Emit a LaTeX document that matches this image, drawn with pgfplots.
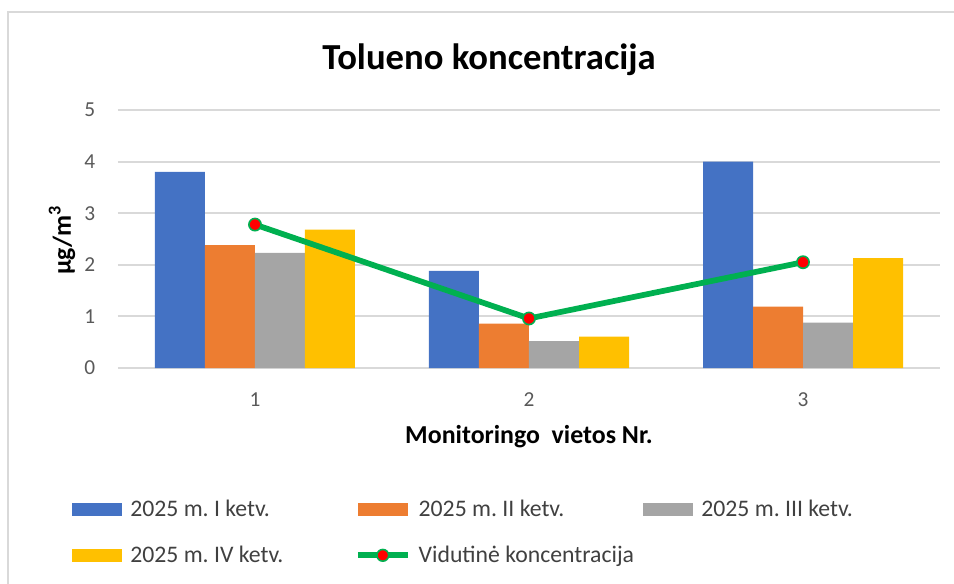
\documentclass[border=0pt]{standalone}
\usepackage{pgfplots}
\pgfplotsset{compat=1.18}
\usepackage{fontspec}
\setmainfont{Carlito}
\definecolor{cblue}{HTML}{4472C4}
\definecolor{corange}{HTML}{ED7D31}
\definecolor{cgray}{HTML}{A5A5A5}
\definecolor{cyellow}{HTML}{FFC000}
\definecolor{cgreen}{HTML}{00B050}
\definecolor{cgrid}{HTML}{D9D9D9}
\definecolor{ctext}{HTML}{404040}
\definecolor{ctick}{HTML}{595959}
\begin{document}
\frenchspacing
\begin{tikzpicture}
\useasboundingbox (-88.5pt,-161.25pt) rectangle (627pt,276pt);
\draw[cgrid, line width=1.5pt] (-82.5pt,-170pt) -- (-82.5pt,267pt) -- (640pt,267pt);
\begin{axis}[
  at={(0pt,0pt)}, anchor=south west,
  scale only axis, width=616.5pt, height=193.5pt,
  xmin=0.5, xmax=3.5, ymin=0, ymax=5,
  ytick={0,1,2,3,4,5}, xtick={1,2,3},
  axis line style={draw=none},
  major tick length=0pt,
  /pgf/number format/assume math mode=true,
  ymajorgrids, grid style={cgrid, line width=1.5pt},
  ybar=0pt, bar width=37.5pt,
  tick label style={font=\fontsize{16}{19}\selectfont, text=ctick},
  yticklabel style={anchor=east, inner sep=0pt, xshift=-17pt},
  xticklabel style={anchor=center, inner sep=0pt, yshift=-24pt},
  xlabel={Monitoringo\ \ vietos Nr.},
  ylabel={µg/m\textsuperscript{3}},
  label style={font=\bfseries\fontsize{19.4}{22}\selectfont},
  xlabel style={at={(rel axis cs:0.5,-0.2674)}, anchor=center, inner sep=0pt},
  ylabel style={at={(rel axis cs:-0.0681,0.496)}, anchor=center, inner sep=0pt},
  legend columns=3,
  legend style={draw=none, fill=none, at={(-34.5pt,-99pt)}, anchor=north west,
    font=\fontsize{17.8}{20}\selectfont, text=ctext, inner sep=0pt,
    nodes={inner sep=0pt},
    /tikz/every odd column/.append style={column sep=6pt},
    /tikz/every even column/.append style={column sep=0pt},
    row sep=20.5pt},
  legend cell align=left,
]
\addplot[fill=cblue, draw=none,
  legend image code/.code={\fill[cblue] (0pt,-4.75pt) rectangle (37.5pt,4.75pt);}]
  coordinates {(1,3.80) (2,1.88) (3,4.00)};
\addplot[fill=corange, draw=none,
  legend image code/.code={\fill[corange] (0pt,-4.75pt) rectangle (37.5pt,4.75pt);}]
  coordinates {(1,2.38) (2,0.86) (3,1.19)};
\addplot[fill=cgray, draw=none,
  legend image code/.code={\fill[cgray] (0pt,-4.75pt) rectangle (37.5pt,4.75pt);}]
  coordinates {(1,2.23) (2,0.52) (3,0.88)};
\addplot[fill=cyellow, draw=none,
  legend image code/.code={\fill[cyellow] (0pt,-4.75pt) rectangle (37.5pt,4.75pt);}]
  coordinates {(1,2.68) (2,0.61) (3,2.13)};
\addplot[sharp plot, cgreen, line width=4.3pt, mark=*, mark size=4.6pt,
  mark options={fill=red, draw=cgreen, line width=1.2pt},
  legend image code/.code={\draw[cgreen, line width=4.3pt] (0pt,0pt) -- (37.5pt,0pt);
     \fill[red, draw=cgreen, line width=1.2pt] (18.75pt,0pt) circle (4.4pt);}]
  coordinates {(1,2.78) (2,0.96) (3,2.05)};
\legend{\makebox[168.5pt][l]{2025 m. I ketv.},\makebox[168.5pt][l]{2025 m. II ketv.},2025 m. III ketv.,2025 m. IV ketv.,Vidutinė koncentracija}
\end{axis}
\node[font=\bfseries\fontsize{27.5}{32}\selectfont, anchor=center] at (278.25pt,231pt) {Tolueno koncentracija};
\end{tikzpicture}
\end{document}
